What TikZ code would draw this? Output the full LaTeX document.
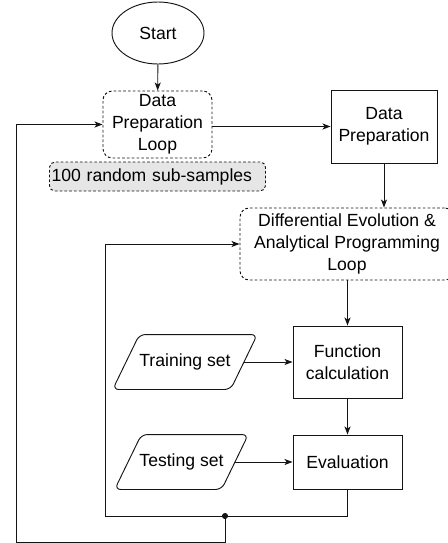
\documentclass[tikz,border=0pt]{standalone}
\usepackage{fontspec}
\setmainfont{Liberation Sans}
\usepackage{tikz}
\usetikzlibrary{shapes.geometric, arrows.meta, positioning}
\definecolor{linegray}{RGB}{20, 20, 20}
\definecolor{notegray}{RGB}{230, 230, 230}

\begin{document}
\begin{tikzpicture}[
    x=0.75pt, y=-0.75pt,
    line width=0.7pt,
    font=\fontsize{13.2pt}{16.5pt}\selectfont,
    flow/.style={draw=linegray, -{Stealth[length=6pt, width=4.5pt, inset=1.5pt]}},
    process/.style={rectangle, draw=linegray, align=center, inner sep=2pt},
    loopbox/.style={rectangle, rounded corners=7pt, draw=linegray, dash pattern=on 2pt off 1.6pt,
                    align=center, inner sep=2pt},
    iotext/.style={rectangle, minimum height=40.5pt, inner sep=0pt},
    iobox/.style={draw=linegray, rounded corners=4.5pt},
]
    \useasboundingbox (0,0) rectangle (447,543);

    % Start
    \node[ellipse, draw=linegray, minimum width=69pt, minimum height=46.5pt] (start) at (158,33) {Start};

    % Outer loop over the sub-samples
    \node[loopbox, minimum width=81.75pt, minimum height=50.25pt] (prepLoop) at (157.5,124.5)
        {Data\\Preparation\\Loop};
    \node[loopbox, rounded corners=4pt, fill=notegray, minimum height=21.75pt,
          text width=159pt, align=left, inner sep=1.5pt]
        (samples) at (157.5,176.5) {100 random sub-samples};

    \node[process, minimum width=79.5pt, minimum height=54.75pt] (prep) at (384,126.5)
        {Data\\Preparation};

    % Inner loop (DE + AP), runs past the right edge
    \node[loopbox, minimum width=160.5pt, minimum height=54pt] (deLoop) at (347,244)
        {Differential Evolution \&\\Analytical Programming\\Loop};

    \node[process, minimum width=81.75pt, minimum height=54pt] (funcCalc) at (347.5,362)
        {Function\\calculation};
    \node[process, minimum width=81.75pt, minimum height=40.5pt] (evaluation) at (347.5,462)
        {Evaluation};

    % Data sets (parallelograms around the text nodes)
    \node[iotext, minimum width=87.75pt] (training) at (185,362) {Training set};
    \draw[iobox] ([xshift=-10pt]training.south west) -- ([xshift=10pt]training.north west)
        -- ([xshift=10pt]training.north east) -- ([xshift=-10pt]training.south east) -- cycle;
    \node[iotext, minimum width=79.5pt] (testing) at (181.5,462) {Testing set};
    \draw[iobox] ([xshift=-10pt]testing.south west) -- ([xshift=10pt]testing.north west)
        -- ([xshift=10pt]testing.north east) -- ([xshift=-10pt]testing.south east) -- cycle;

    % Main flow
    \draw[flow] (start) -- (prepLoop);
    \draw[flow] (prepLoop.east |- prep.west) -- (prep.west);
    \draw[flow] (prep.south) -- (prep.south |- deLoop.north);
    \draw[flow] (funcCalc.north |- deLoop.south) -- (funcCalc.north);
    \draw[flow] (training.east) -- (funcCalc.west);
    \draw[flow] (funcCalc) -- (evaluation);
    \draw[flow] (testing.east) -- (evaluation.west);

    % Feedback lines
    \coordinate (join) at (225,516);
    \coordinate (innerCorner) at (105,516);
    \coordinate (outerCorner) at (16,542);
    \draw[flow] (evaluation.south) |- (innerCorner) |- (deLoop.west);
    \draw[flow] (join) |- (outerCorner) |- (prepLoop.west);
    \fill[linegray] (join) circle (2.3pt);
\end{tikzpicture}
\end{document}
